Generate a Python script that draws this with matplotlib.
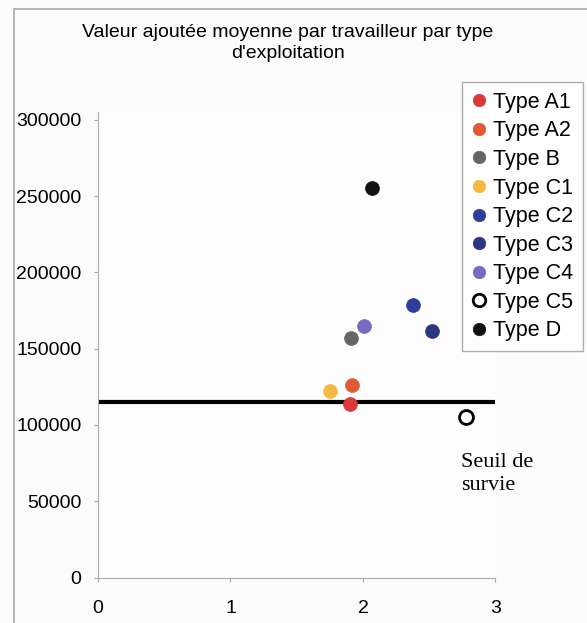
import matplotlib.pyplot as plt
from matplotlib.patches import Rectangle

plt.rcParams['font.family'] = ['Liberation Sans', 'DejaVu Sans']

types = ['Type A1', 'Type A2', 'Type B', 'Type C1', 'Type C2',
         'Type C3', 'Type C4', 'Type C5', 'Type D']
x_vals = [1.90, 1.92, 1.91, 1.75, 2.38, 2.52, 2.01, 2.78, 2.07]
y_vals = [113500, 126000, 157000, 122500, 178500, 161500, 165000, 105000, 255000]
colors = ['#d83a3c', '#e05a36', '#666666', '#f4b845', '#2f3d9e',
          '#2b3680', '#7a6bc0', 'white', '#111111']

seuil = 115000

fig = plt.figure(figsize=(5.87, 6.23), dpi=100)
fig.patch.set_facecolor('#fbfbfb')
ax = fig.add_axes([0.167, 0.073, 0.677, 0.747])
ax.set_facecolor('#fdfdfd')

handles = []
for t, x, y, c in zip(types, x_vals, y_vals, colors):
    edge = 'black' if c == 'white' else c
    h, = ax.plot(x, y, 'o', ms=10, mfc=c, mec=edge, mew=2 if c == 'white' else 0.5,
                 label=t, zorder=3)
    handles.append(h)

ax.plot([0, 3], [seuil, seuil], color='black', lw=3, zorder=2)

ax.set_xlim(0, 3)
ax.set_ylim(0, 305000)
ax.set_xticks([0, 1, 2, 3])
ax.set_yticks(range(0, 300001, 50000))
ax.tick_params(labelsize=14, colors='#aaaaaa', labelcolor='black', length=3)
ax.tick_params(axis='x', pad=13)
ax.tick_params(axis='y', pad=9)
for s in ['top', 'right']:
    ax.spines[s].set_visible(False)
for s in ['left', 'bottom']:
    ax.spines[s].set_color('#aaaaaa')

ax.text(2.74, 68000, 'Seuil de\nsurvie', family=['Liberation Serif', 'DejaVu Serif'],
        fontsize=16, va='center', ha='left', linespacing=1.25)

fig.text(0.49, 0.931, "Valeur ajoutée moyenne par travailleur par type\nd'exploitation",
         ha='center', va='center', fontsize=14, linespacing=1.3)

leg = fig.legend(handles=handles, loc='upper left', bbox_to_anchor=(0.787, 0.868),
                 fontsize=15.5, frameon=True, fancybox=False, edgecolor='#999999',
                 handlelength=0.7, handletextpad=0.3, labelspacing=0.35,
                 borderpad=0.45, borderaxespad=0, markerscale=0.9)
leg.get_frame().set_linewidth(1)

# outer chart frame
fig.patches.append(Rectangle((0.024, -0.01), 1.1, 0.995, transform=fig.transFigure,
                             fill=False, edgecolor='#aaaaaa', lw=1.2))

fig.savefig('out.png', dpi=100, facecolor=fig.get_facecolor())
